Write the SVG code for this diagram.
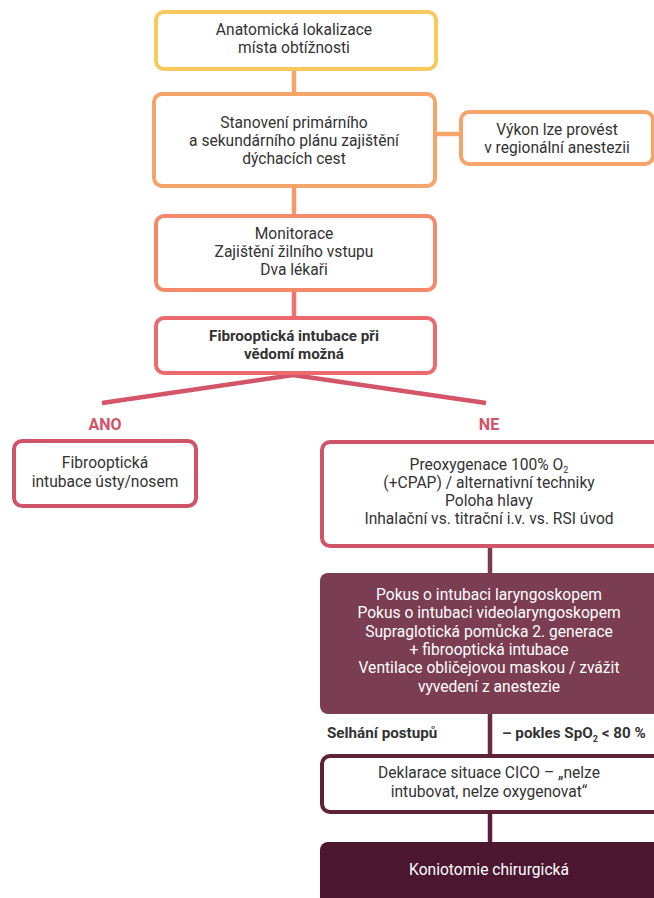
<svg xmlns="http://www.w3.org/2000/svg" width="654" height="898" viewBox="0 0 654 898">
<style>
text{font-family:Roboto,"Liberation Sans",sans-serif;font-size:15.6px;fill:#333;text-anchor:middle}
.b{font-weight:bold;font-size:15.2px}
.w{fill:#fff}
.lbl{font-weight:bold;fill:#D4526A;font-size:16px}
.box{fill:#fff;stroke-width:4}
.c{fill:none;stroke-width:4.5}
.sub{font-size:9px}
</style>
<rect width="654" height="898" fill="#fff"/>
<g id="connectors">
<line class="c" x1="294" y1="69" x2="294" y2="94" stroke="#F5A569"/>
<line class="c" x1="435" y1="134" x2="461" y2="134" stroke="#F5A569"/>
<line class="c" x1="294" y1="186" x2="294" y2="216" stroke="#F79A68"/>
<line class="c" x1="294" y1="290" x2="294" y2="318" stroke="#EE7470"/>
<polyline class="c" points="102,403 293,375 486,403" stroke="#D45468" stroke-width="5"/>
<line class="c" x1="490" y1="546" x2="490" y2="574" stroke="#7B3A50"/>
<line class="c" x1="490" y1="713" x2="490" y2="756" stroke="#6A2A42" stroke-width="3.5"/>
<line class="c" x1="490" y1="812" x2="490" y2="843" stroke="#5A2038"/>
</g>
<g id="n1">
<rect class="box" x="156" y="12" width="280" height="57" rx="8" stroke="#F9C95C"/>
<text x="294" y="35">Anatomická lokalizace</text>
<text x="294" y="53">místa obtížnosti</text>
</g>
<g id="n2">
<rect class="box" x="154" y="94" width="281" height="92" rx="8" stroke="#F5A569"/>
<text x="294" y="128">Stanovení primárního</text>
<text x="294" y="146">a sekundárního plánu zajištění</text>
<text x="294" y="164">dýchacích cest</text>
</g>
<g id="n2b">
<rect class="box" x="461" y="112" width="192" height="52" rx="8" stroke="#F5A569"/>
<text x="557" y="135">Výkon lze provést</text>
<text x="557" y="153">v regionální anestezii</text>
</g>
<g id="n3">
<rect class="box" x="156" y="216" width="279" height="74" rx="8" stroke="#F38A69"/>
<text x="294" y="239">Monitorace</text>
<text x="294" y="257">Zajištění žilního vstupu</text>
<text x="294" y="275">Dva lékaři</text>
</g>
<g id="n4">
<rect class="box" x="156" y="318" width="279" height="55" rx="8" stroke="#EC6A6E"/>
<text class="b" x="294" y="341">Fibrooptická intubace při</text>
<text class="b" x="294" y="359">vědomí možná</text>
</g>
<g id="ano">
<text class="lbl" x="105" y="430">ANO</text>
</g>
<g id="ne">
<text class="lbl" x="489" y="430">NE</text>
</g>
<g id="n5">
<rect class="box" x="14" y="441" width="182" height="65" rx="8" stroke="#CF5467"/>
<text x="105" y="468">Fibrooptická</text>
<text x="105" y="487">intubace ústy/nosem</text>
</g>
<g id="n6">
<rect class="box" x="322" y="442" width="350" height="104" rx="8" stroke="#CF5467"/>
<text x="489" y="470">Preoxygenace 100% O<tspan class="sub" dy="3">2</tspan></text>
<text x="489" y="488">(+CPAP) / alternativní techniky</text>
<text x="489" y="506">Poloha hlavy</text>
<text x="489" y="524">Inhalační vs. titrační i.v. vs. RSI úvod</text>
</g>
<g id="n7">
<rect x="320" y="573" width="352" height="141" rx="8" fill="#7A3D51"/>
<text class="w" x="489" y="600">Pokus o intubaci laryngoskopem</text>
<text class="w" x="489" y="618">Pokus o intubaci videolaryngoskopem</text>
<text class="w" x="489" y="637">Supraglotická pomůcka 2. generace</text>
<text class="w" x="489" y="655">+ fibrooptická intubace</text>
<text class="w" x="489" y="673">Ventilace obličejovou maskou / zvážit</text>
<text class="w" x="489" y="692">vyvedení z anestezie</text>
</g>
<g id="fail">
<text class="b" x="327" y="738" style="text-anchor:start">Selhání postupů</text>
<text class="b" x="502" y="738" style="text-anchor:start">– pokles SpO<tspan class="sub" dy="4">2</tspan><tspan dy="-4"> &lt; 80 %</tspan></text>
</g>
<g id="n8">
<rect class="box" x="322" y="756" width="350" height="56" rx="8" stroke="#5E2238" stroke-width="3.5"/>
<text x="489" y="778">Deklarace situace CICO – „nelze</text>
<text x="489" y="797">intubovat, nelze oxygenovat“</text>
</g>
<g id="n9">
<rect x="320" y="842" width="352" height="70" rx="8" fill="#4B1730"/>
<text class="w" x="489" y="875">Koniotomie chirurgická</text>
</g>
</svg>
